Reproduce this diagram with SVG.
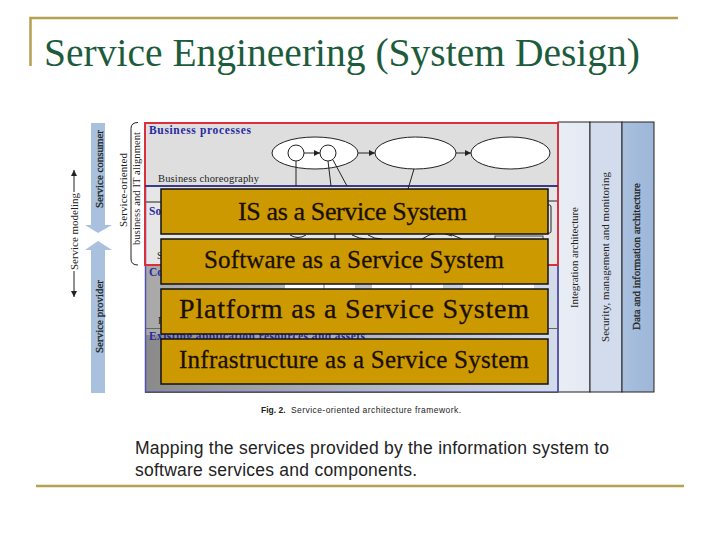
<svg xmlns="http://www.w3.org/2000/svg" width="720" height="540" viewBox="0 0 720 540">
<style>
text{font-family:"Liberation Serif",serif;fill:#222}
.gold rect{fill:#cc9900;stroke:#111;stroke-width:1.5}
.gold text{fill:#1a0f00;text-anchor:middle;stroke:#1a0f00;stroke-width:.3}
.rule{stroke:#b5a04f;stroke-width:2.5;fill:none}
.blue{fill:#2a2aa0;font-weight:bold;font-size:11.5px}
.v{font-size:11px}
.sans{font-family:"Liberation Sans",sans-serif}
.ln{stroke:#222;stroke-width:1;fill:none}
.el{fill:#fff;stroke:#222;stroke-width:1}
.wh{fill:#fff}
</style>
<defs>
<linearGradient id="g1" x1="0" x2="1" y1="0" y2="0"><stop offset="0" stop-color="#a8a8a8"/><stop offset="1" stop-color="#d4dcec"/></linearGradient>
<linearGradient id="g2" x1="0" x2="1" y1="0" y2="0"><stop offset="0" stop-color="#8a8a8a"/><stop offset="1" stop-color="#d4dcec"/></linearGradient>
<linearGradient id="g3" x1="0" x2="1" y1="0" y2="0"><stop offset="0" stop-color="#e8edf6"/><stop offset="1" stop-color="#e4e9f3"/></linearGradient>
<linearGradient id="g4" x1="0" x2="1" y1="0" y2="0"><stop offset="0" stop-color="#a9c0de"/><stop offset="1" stop-color="#9db6d8"/></linearGradient>
<marker id="ah" markerWidth="7" markerHeight="6" refX="6" refY="3" orient="auto"><path d="M0 0L6 3L0 6Z" fill="#222"/></marker>
</defs>

<g id="frame">
<path class="rule" d="M678 18H30.500V66"/>
<path class="rule" d="M36 486H684"/>
<text x="44" y="66" font-size="39.500" style="fill:#1c5c3c" textLength="596">Service Engineering (System Design)</text>
</g>

<g id="figure">
<rect x="145" y="122" width="413" height="143" fill="#dedede"/>
<rect x="145" y="186" width="413" height="79" fill="#e6e6e6"/>
<rect x="145" y="265" width="413" height="70" fill="url(#g1)"/>
<rect x="145" y="335" width="413" height="57" fill="url(#g2)"/>
<rect x="558" y="122" width="32" height="270" fill="url(#g3)" stroke="#222"/>
<rect x="590" y="122" width="32" height="270" fill="#d3dcec" stroke="#222"/>
<rect x="622" y="122" width="32" height="270" fill="url(#g4)" stroke="#222"/>
<path class="ln" d="M145 202H161M548 201H558"/>
<path d="M145 328.500H558" stroke="#666" stroke-width="1"/>
<rect x="145.500" y="186" width="412.500" height="206" fill="none" stroke="#5050b0" stroke-width="1.500"/>
<rect x="145" y="123" width="413" height="142" fill="none" stroke="#d8303c" stroke-width="2"/>
<path d="M145 186H558" stroke="#28287a" stroke-width="1.500"/>
<path d="M145 392.500H558" stroke="#555" stroke-width="1"/>
<path class="ln" d="M548 205h1.500q1.500 0 1.500 2v24q0 2-1.500 2H548"/>
<text x="149" y="134" class="blue" textLength="102">Business processes</text>
<text x="158" y="182" font-size="10.500" textLength="101">Business choreography</text>
<text x="149" y="215" class="blue">So</text>
<text x="149" y="276" class="blue">Co</text>
<text x="157" y="259" font-size="10">S</text>
<text x="158" y="324" font-size="10">F</text>
<text x="149" y="340" class="blue" textLength="216">Existing application resources and assets</text>

<ellipse class="el" cx="315" cy="153" rx="43" ry="16"/>
<ellipse class="el" cx="415.500" cy="153" rx="40.500" ry="16"/>
<ellipse class="el" cx="510.500" cy="153" rx="39.500" ry="16"/>
<circle class="el" cx="296" cy="153" r="8"/>
<circle class="el" cx="328" cy="153" r="8"/>
<path class="ln" marker-end="url(#ah)" d="M304 153H320"/>
<path class="ln" marker-end="url(#ah)" d="M358 153H375"/>
<path class="ln" marker-end="url(#ah)" d="M456 153H471"/>
<path class="ln" d="M296 161V186M328 161L331 186M333 160L347 186M414 169L408 189"/>

<path class="ln" d="M290 235q8 5 16 0M335 234v5M352 235q8 4 14 4M368 235q6 4 14 4M422 239q14-10 30-3M450 234l12 5"/>
<rect x="495" y="236" width="48" height="5" fill="#ddd" stroke="#444"/>

<rect x="285" y="284" width="38" height="5" class="wh"/>
<rect x="325" y="284" width="30" height="5" class="wh"/>
<rect x="372" y="284" width="38" height="5" class="wh"/>
<rect x="412" y="284" width="31" height="5" class="wh"/>
<rect x="463" y="284" width="39" height="5" class="wh"/>
<rect x="503" y="284" width="31" height="5" class="wh"/>

<g transform="translate(578 308) rotate(-90)"><text class="v" textLength="101">Integration architecture</text></g>
<g transform="translate(609 342) rotate(-90)"><text class="v" textLength="170">Security, management and monitoring</text></g>
<g transform="translate(640 330) rotate(-90)"><text class="v" stroke="#222" stroke-width=".25" textLength="147">Data and information architecture</text></g>
<text x="261" y="413" font-size="8.500" class="sans" font-weight="bold">Fig. 2.</text>
<text x="291" y="413" font-size="8.500" class="sans" textLength="170">Service-oriented architecture framework.</text>
</g>

<g id="side-labels">
<path d="M91 123H105V225H112L98 233L85 225H91Z" fill="#a9c0de"/>
<path d="M98 241L112 250H105V393H91V250H85Z" fill="#a9c0de"/>
<g transform="translate(103 208) rotate(-90)"><text font-size="11" stroke="#222" stroke-width=".25" textLength="78">Service consumer</text></g>
<g transform="translate(103 353) rotate(-90)"><text font-size="11" stroke="#222" stroke-width=".25" textLength="73">Service provider</text></g>
<g transform="translate(78 270) rotate(-90)"><text font-size="11" textLength="77">Service modeling</text></g>
<path class="ln" marker-end="url(#ah)" d="M74 192V170"/>
<path class="ln" marker-end="url(#ah)" d="M74 271V297"/>
<g transform="translate(127 227) rotate(-90)"><text font-size="11" textLength="74">Service-oriented</text></g>
<g transform="translate(140 245) rotate(-90)"><text font-size="10.500" textLength="113">business and IT alignment</text></g>
<path class="ln" d="M138 122.500q-7 0-7 6V259q0 6 7 6"/>
</g>

<g id="is-box" class="gold"><rect x="161" y="189" width="387" height="45"/><text x="352.500" y="220" font-size="26" textLength="229">IS as a Service System</text></g>
<g id="software-box" class="gold"><rect x="161" y="239" width="387" height="45"/><text x="354" y="268" font-size="25" textLength="300">Software as a Service System</text></g>
<g id="platform-box" class="gold"><rect x="161" y="289" width="387" height="45"/><text x="354" y="318" font-size="28" textLength="350">Platform as a Service System</text></g>
<g id="infrastructure-box" class="gold"><rect x="161" y="339" width="387" height="45"/><text x="354" y="368" font-size="25" textLength="350">Infrastructure as a Service System</text></g>

<g id="caption">
<text x="135" y="454" font-size="17.500" class="sans" textLength="474">Mapping the services provided by the information system to</text>
<text x="135" y="476" font-size="17.500" class="sans" textLength="282">software services and components.</text>
</g>
</svg>
